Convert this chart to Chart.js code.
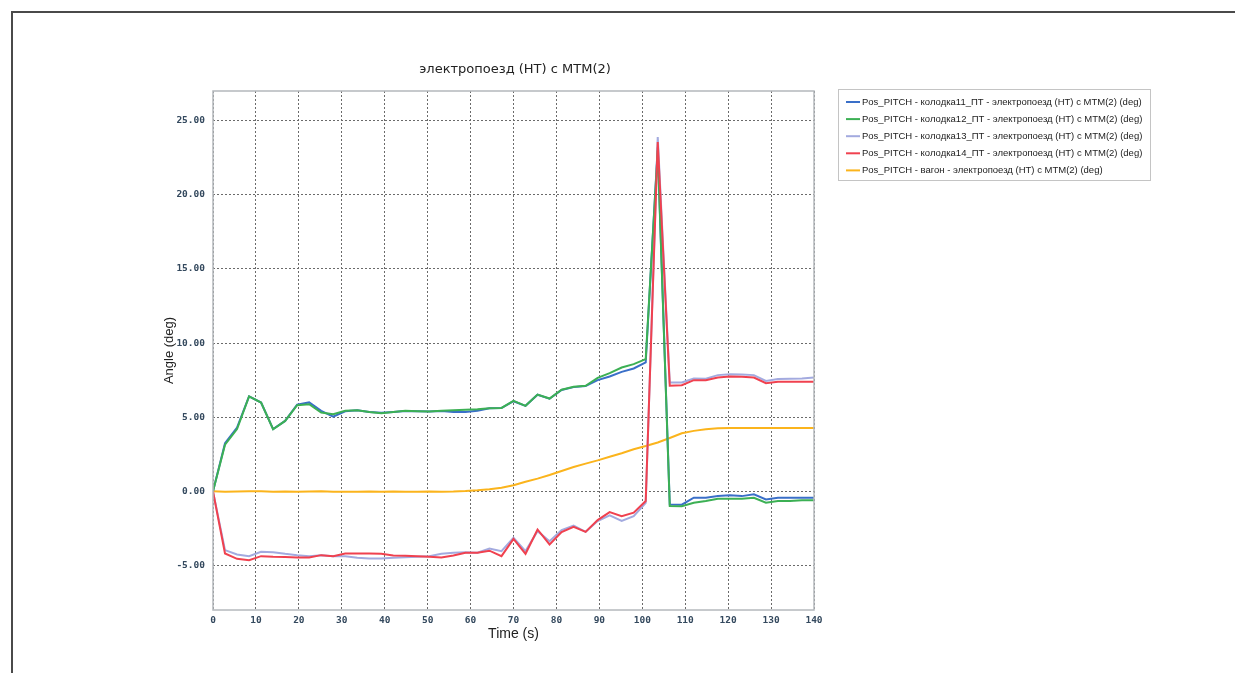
<!DOCTYPE html>
<html>
<head>
<meta charset="utf-8">
<script src="https://cdn.jsdelivr.net/npm/chart.js@4/dist/chart.umd.min.js"></script>
<style>
    html, body { margin: 0; padding: 0; background: #ffffff; overflow: hidden; }
    #wrap { position: relative; width: 1235px; height: 673px; }
    #frame { position: absolute; left: 11px; top: 11px; width: 1300px; height: 700px; border-top: 2px solid #4a4a4a; border-left: 2px solid #4a4a4a; }
    #grafico { position: absolute; left: 0; top: 0; }
</style>
</head>
<body>
<div id="wrap">
    <div id="frame"></div>
    <canvas id="grafico" width="1235" height="673"></canvas>
</div>
<script>
const titulo = "электропоезд (НТ) с МТМ(2)";
const tiempos = [0, 2.8, 5.6, 8.4, 11.2, 14, 16.8, 19.6, 22.4, 25.2, 28, 30.8, 33.6, 36.4, 39.2, 42, 44.8, 47.6, 50.4, 53.2, 56, 58.8, 61.6, 64.4, 67.2, 70, 72.8, 75.6, 78.4, 81.2, 84, 86.8, 89.6, 92.4, 95.2, 98, 100.8, 103.6, 106.4, 109.2, 112, 114.8, 117.6, 120.4, 123.2, 126, 128.8, 131.6, 134.4, 137.2, 140];

const etiquetas = [
    "Pos_PITCH - колодка11_ПТ - электропоезд (НТ) с МТМ(2) (deg)",
    "Pos_PITCH - колодка12_ПТ - электропоезд (НТ) с МТМ(2) (deg)",
    "Pos_PITCH - колодка13_ПТ - электропоезд (НТ) с МТМ(2) (deg)",
    "Pos_PITCH - колодка14_ПТ - электропоезд (НТ) с МТМ(2) (deg)",
    "Pos_PITCH - вагон - электропоезд (НТ) с МТМ(2) (deg)"
];

const kolodka11 = [0, 3.25, 4.3, 6.4, 5.99, 4.2, 4.75, 5.85, 6.0, 5.43, 5.04, 5.4, 5.47, 5.36, 5.3, 5.36, 5.42, 5.4, 5.38, 5.42, 5.36, 5.36, 5.43, 5.6, 5.62, 6.08, 5.77, 6.52, 6.25, 6.84, 7.03, 7.1, 7.5, 7.75, 8.06, 8.29, 8.7, 23.2, -0.88, -0.9, -0.43, -0.43, -0.32, -0.27, -0.32, -0.2, -0.54, -0.43, -0.43, -0.43, -0.43];
const kolodka12 = [0, 3.15, 4.2, 6.4, 5.99, 4.19, 4.75, 5.81, 5.88, 5.32, 5.2, 5.43, 5.47, 5.36, 5.27, 5.36, 5.43, 5.4, 5.38, 5.43, 5.47, 5.5, 5.54, 5.61, 5.63, 6.1, 5.77, 6.53, 6.26, 6.85, 7.05, 7.12, 7.65, 7.97, 8.35, 8.58, 8.92, 23.0, -0.99, -1.0, -0.77, -0.65, -0.5, -0.5, -0.5, -0.43, -0.77, -0.65, -0.65, -0.6, -0.6];
const kolodka13 = [0, -3.96, -4.26, -4.37, -4.08, -4.1, -4.21, -4.3, -4.37, -4.3, -4.37, -4.37, -4.48, -4.52, -4.52, -4.48, -4.45, -4.41, -4.37, -4.21, -4.14, -4.1, -4.14, -3.85, -4.03, -3.13, -4.03, -2.68, -3.36, -2.61, -2.3, -2.73, -2.0, -1.62, -2.0, -1.67, -0.77, 23.9, 7.34, 7.34, 7.61, 7.6, 7.84, 7.9, 7.88, 7.84, 7.45, 7.57, 7.6, 7.62, 7.68];
const kolodka14 = [0, -4.19, -4.55, -4.64, -4.37, -4.41, -4.43, -4.46, -4.46, -4.3, -4.37, -4.19, -4.19, -4.19, -4.2, -4.32, -4.34, -4.37, -4.41, -4.46, -4.32, -4.14, -4.14, -4.0, -4.37, -3.2, -4.21, -2.57, -3.58, -2.75, -2.39, -2.73, -1.94, -1.4, -1.67, -1.44, -0.65, 23.56, 7.12, 7.16, 7.5, 7.5, 7.68, 7.75, 7.73, 7.68, 7.3, 7.39, 7.39, 7.39, 7.39];
const vagon = [0, -0.02, -0.01, 0.01, 0, -0.02, -0.01, -0.02, -0.01, 0.01, -0.02, -0.02, -0.02, -0.01, -0.02, -0.01, -0.02, -0.02, -0.01, -0.02, -0.01, 0.02, 0.07, 0.14, 0.25, 0.41, 0.65, 0.86, 1.1, 1.37, 1.64, 1.87, 2.09, 2.34, 2.57, 2.84, 3.06, 3.3, 3.6, 3.92, 4.08, 4.19, 4.26, 4.28, 4.28, 4.28, 4.28, 4.28, 4.28, 4.28, 4.28];

const ticksY = [-5, 0, 5, 10, 15, 20, 25];
const ticksX = [0, 10, 20, 30, 40, 50, 60, 70, 80, 90, 100, 110, 120, 130, 140];

function puntos(serie) {
    return serie.map((v, i) => ({ x: tiempos[i], y: v }));
}

const marcoYLeyenda = {
    id: "marcoYLeyenda",
    afterDraw(chart) {
        const { ctx, chartArea } = chart;
        ctx.save();
        // borde del area de graficos
        ctx.strokeStyle = "#b4b8bc";
        ctx.lineWidth = 1.5;
        ctx.strokeRect(chartArea.left, chartArea.top, chartArea.right - chartArea.left, chartArea.bottom - chartArea.top);
        // titulo
        ctx.fillStyle = "#222222";
        ctx.font = "13px 'DejaVu Sans'";
        ctx.textAlign = "center";
        ctx.textBaseline = "middle";
        ctx.fillText(titulo, 515, 70);
        // leyenda
        const lx = 838, ly = 89, lw = 312, lh = 91;
        ctx.strokeStyle = "#c4c4c4";
        ctx.lineWidth = 1;
        ctx.strokeRect(lx + 0.5, ly + 0.5, lw, lh);
        ctx.font = "9.5px 'Liberation Sans'";
        ctx.textAlign = "left";
        chart.data.datasets.forEach((ds, i) => {
            const y = 102 + i * 17.1;
            ctx.strokeStyle = ds.borderColor;
            ctx.lineWidth = 2;
            ctx.beginPath();
            ctx.moveTo(846, y);
            ctx.lineTo(860, y);
            ctx.stroke();
            ctx.fillStyle = "#222222";
            ctx.fillText(ds.label, 862, y);
        });
        ctx.restore();
    }
};

const fuenteTicks = { family: "'DejaVu Sans Mono'", size: 9.5, weight: "bold" };

new Chart(document.getElementById("grafico"), {
    type: "line",
    plugins: [marcoYLeyenda],
    data: {
        datasets: [
            { label: etiquetas[0], data: puntos(kolodka11), borderColor: "#3a6fc8", order: 4 },
            { label: etiquetas[1], data: puntos(kolodka12), borderColor: "#3cb054", order: 2 },
            { label: etiquetas[2], data: puntos(kolodka13), borderColor: "#a3aadf", order: 3 },
            { label: etiquetas[3], data: puntos(kolodka14), borderColor: "#f0414f", order: 1 },
            { label: etiquetas[4], data: puntos(vagon), borderColor: "#fbb41c", order: 5 }
        ]
    },
    options: {
        responsive: false,
        animation: false,
        devicePixelRatio: 1,
        layout: { padding: { left: 150, top: 91, right: 421, bottom: 23 } },
        elements: {
            line: { borderWidth: 2, tension: 0, fill: false },
            point: { radius: 0, hoverRadius: 0 }
        },
        plugins: {
            legend: { display: false },
            title: { display: false },
            tooltip: { enabled: false }
        },
        scales: {
            x: {
                type: "linear",
                min: 0,
                max: 140,
                afterFit(scale) { scale.height = 40; },
                afterBuildTicks(scale) { scale.ticks = ticksX.map((v) => ({ value: v })); },
                ticks: { color: "#34495e", font: fuenteTicks, padding: 5, maxRotation: 0, callback: (v) => String(v) },
                grid: { color: "#6a6a6a", lineWidth: 1, drawTicks: false },
                border: { display: false, dash: [2, 2] },
                title: { display: true, text: "Time (s)", color: "#222222", font: { family: "'Liberation Sans'", size: 14 }, padding: { top: 0, bottom: 7 } }
            },
            y: {
                type: "linear",
                min: -8,
                max: 27,
                afterFit(scale) { scale.width = 63; },
                afterBuildTicks(scale) { scale.ticks = ticksY.map((v) => ({ value: v })); },
                ticks: { color: "#34495e", font: fuenteTicks, padding: 8, callback: (v) => Number(v).toFixed(2) },
                grid: { color: "#6a6a6a", lineWidth: 1, drawTicks: false },
                border: { display: false, dash: [2, 2] },
                title: { display: true, text: "Angle (deg)", color: "#222222", font: { family: "'Liberation Sans'", size: 13 }, padding: { top: 12, bottom: 0 } }
            }
        }
    }
});
</script>
</body>
</html>
